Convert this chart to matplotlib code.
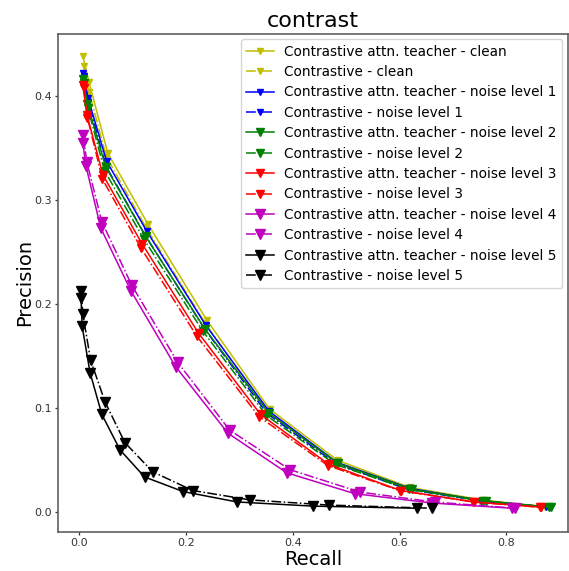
import matplotlib
matplotlib.use("Agg")
import matplotlib.pyplot as plt

# Precision/recall points per setting: (teacher, baseline)
levels = ["clean", "noise level 1", "noise level 2", "noise level 3", "noise level 4", "noise level 5"]
colors = ["y", "b", "g", "r", "m", "k"]

teacher_recall = [
    [0.0075, 0.019, 0.054, 0.129, 0.239, 0.357, 0.484, 0.619, 0.754, 0.877],
    [0.0075, 0.017, 0.052, 0.127, 0.237, 0.356, 0.483, 0.620, 0.757, 0.879],
    [0.0075, 0.016, 0.050, 0.125, 0.236, 0.356, 0.485, 0.624, 0.762, 0.884],
    [0.0075, 0.015, 0.045, 0.118, 0.224, 0.340, 0.468, 0.602, 0.739, 0.864],
    [0.0075, 0.013, 0.041, 0.097, 0.181, 0.279, 0.389, 0.516, 0.660, 0.810],
    [0.004, 0.006, 0.021, 0.043, 0.077, 0.123, 0.195, 0.296, 0.438, 0.632],
]
teacher_precision = [
    [0.438, 0.413, 0.345, 0.277, 0.185, 0.099, 0.050, 0.024, 0.012, 0.005],
    [0.422, 0.398, 0.337, 0.270, 0.180, 0.097, 0.048, 0.023, 0.011, 0.005],
    [0.416, 0.392, 0.332, 0.265, 0.176, 0.095, 0.047, 0.022, 0.011, 0.005],
    [0.410, 0.382, 0.324, 0.258, 0.172, 0.094, 0.046, 0.021, 0.010, 0.005],
    [0.355, 0.333, 0.273, 0.213, 0.140, 0.076, 0.038, 0.018, 0.009, 0.004],
    [0.206, 0.179, 0.134, 0.094, 0.060, 0.034, 0.020, 0.010, 0.006, 0.004],
]
baseline_recall = [
    [0.009, 0.019, 0.051, 0.125, 0.236, 0.353, 0.481, 0.615, 0.750, 0.873],
    [0.009, 0.018, 0.050, 0.124, 0.234, 0.352, 0.480, 0.616, 0.752, 0.875],
    [0.009, 0.017, 0.048, 0.122, 0.232, 0.351, 0.480, 0.618, 0.756, 0.879],
    [0.009, 0.016, 0.044, 0.116, 0.221, 0.337, 0.466, 0.600, 0.737, 0.862],
    [0.008, 0.015, 0.043, 0.099, 0.185, 0.282, 0.395, 0.526, 0.666, 0.816],
    [0.004, 0.0075, 0.022, 0.049, 0.086, 0.138, 0.213, 0.320, 0.468, 0.660],
]
baseline_precision = [
    [0.429, 0.404, 0.342, 0.274, 0.182, 0.096, 0.048, 0.023, 0.011, 0.005],
    [0.419, 0.394, 0.333, 0.266, 0.177, 0.095, 0.047, 0.022, 0.011, 0.005],
    [0.412, 0.388, 0.328, 0.262, 0.174, 0.093, 0.046, 0.022, 0.011, 0.005],
    [0.407, 0.379, 0.320, 0.254, 0.169, 0.092, 0.045, 0.021, 0.010, 0.005],
    [0.362, 0.336, 0.279, 0.218, 0.144, 0.079, 0.041, 0.0195, 0.0099, 0.004],
    [0.213, 0.190, 0.146, 0.106, 0.067, 0.039, 0.021, 0.012, 0.007, 0.004],
]
marker_sizes = [3.8, 4.5, 5.2, 5.9, 6.6, 7.3]

fig = plt.figure(figsize=(5.69, 5.71), dpi=100)
ax = fig.add_axes([0.102, 0.068, 0.896, 0.873])

for i, lvl in enumerate(levels):
    ax.plot(teacher_recall[i], teacher_precision[i], color=colors[i], linestyle="-",
            marker="v", markersize=marker_sizes[i], linewidth=1.1,
            label=f"Contrastive attn. teacher - {lvl}")
    ax.plot(baseline_recall[i], baseline_precision[i], color=colors[i], linestyle="-.",
            marker="v", markersize=marker_sizes[i], linewidth=1.1,
            label=f"Contrastive - {lvl}")

ax.set_xlim(-0.039, 0.915)
ax.set_ylim(-0.019, 0.4596)
ax.set_xticks([0.0, 0.2, 0.4, 0.6, 0.8])
ax.set_yticks([0.0, 0.1, 0.2, 0.3, 0.4])
ax.tick_params(labelsize=8, colors="#333333", length=2.5, width=0.9, pad=2)
for s in ax.spines.values():
    s.set_color("#606060")
    s.set_linewidth(1.2)

ax.set_title("contrast", fontsize=16, pad=5)
ax.set_xlabel("Recall", fontsize=14, labelpad=1)
ax.set_ylabel("Precision", fontsize=14, labelpad=0)
ax.legend(loc="upper right", fontsize=9.8, handlelength=2.0, labelspacing=0.47,
          borderaxespad=0.4)

fig.savefig("out.png", dpi=100)
